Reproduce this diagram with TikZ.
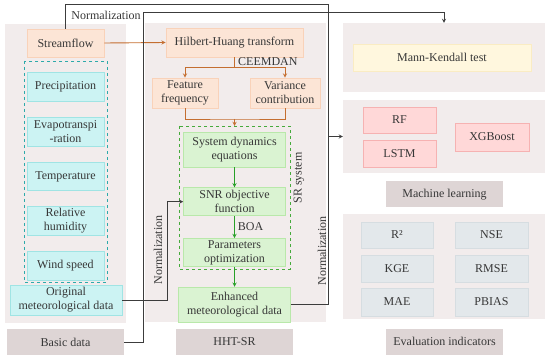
\documentclass[tikz,border=0pt]{standalone}
\usepackage{fontspec}
\setmainfont{Liberation Serif}
\usetikzlibrary{positioning, arrows.meta}
\definecolor{panelbg}{RGB}{242, 236, 236}
\definecolor{tagbg}{RGB}{222, 213, 213}
\definecolor{txt}{RGB}{55, 55, 55}
\definecolor{wire}{RGB}{60, 60, 60}
\definecolor{orafill}{RGB}{252, 229, 214}
\definecolor{oraline}{RGB}{249, 210, 185}
\definecolor{oraarrow}{RGB}{196, 110, 48}
\definecolor{teafill}{RGB}{204, 243, 243}
\definecolor{tealine}{RGB}{160, 228, 228}
\definecolor{teadash}{RGB}{45, 170, 170}
\definecolor{grefill}{RGB}{218, 243, 210}
\definecolor{greline}{RGB}{185, 232, 170}
\definecolor{gredash}{RGB}{70, 170, 60}
\definecolor{grearrow}{RGB}{40, 160, 40}
\definecolor{pinfill}{RGB}{255, 216, 216}
\definecolor{pinline}{RGB}{246, 178, 178}
\definecolor{blufill}{RGB}{227, 232, 235}
\definecolor{bluline}{RGB}{214, 221, 225}
\definecolor{yelfill}{RGB}{255, 247, 222}
\definecolor{yelline}{RGB}{250, 236, 195}

\begin{document}
\begin{tikzpicture}[
    x=1pt, y=-1pt,
    every node/.style={text=txt, font=\fontsize{12}{14}\selectfont},
    panel/.style={fill=panelbg, inner sep=0pt},
    tag/.style={fill=tagbg, minimum width=117, minimum height=26, inner sep=0pt},
    box/.style={
        draw=#1line,
        fill=#1fill,
        line width=0.7pt,
        align=center,
        inner xsep=2pt,
        inner ysep=1pt
    },
    lbl/.style={inner sep=1pt},
    conn/.style={draw=wire, line width=0.8pt, >=stealth},
    oline/.style={draw=oraarrow, line width=0.9pt, >=stealth},
    gline/.style={draw=grearrow, line width=0.9pt, >=stealth}
]
\useasboundingbox (0,0) rectangle (550,361);

% === Panels ===
\node[panel, minimum width=121, minimum height=299] (leftpanel) at (65.5,173.5) {};
\node[panel, minimum width=181, minimum height=299] (midpanel) at (235.5,172.5) {};
\node[panel, minimum width=202, minimum height=69] (mkpanel) at (444,57.5) {};
\node[panel, minimum width=202, minimum height=73] (mlpanel) at (444,136.5) {};
\node[panel, minimum width=202, minimum height=105] (evalpanel) at (444,266.5) {};

% === Basic data ===
\node[box=ora, minimum width=77, minimum height=28] (streamflow) at (65.5,43) {Streamflow};
\node[box=tea, minimum width=77, minimum height=28.5, below=15pt of streamflow] (precip) {Precipitation};
\node[box=tea, minimum width=77, minimum height=28.5, below=15.5pt of precip] (evapo) {Evapotranspi\\-ration};
\node[box=tea, minimum width=77, minimum height=28.5, below=15.5pt of evapo] (temp) {Temperature};
\node[box=tea, minimum width=77, minimum height=28.5, below=15.5pt of temp] (humid) {Relative\\humidity};
\node[box=tea, minimum width=77, minimum height=28.5, below=15.5pt of humid] (wind) {Wind speed};
\draw[teadash, dashed, line width=0.8pt] (24,61) rectangle (107,282);
\node[box=tea, minimum width=112, minimum height=30] (origmet) at (66,300) {Original\\meteorological data};
\node[tag] (basic) at (65.5,342) {Basic data};

% === HHT-SR ===
\node[box=ora, minimum width=137, minimum height=29] (hht) at (234.5,42.5) {Hilbert-Huang transform};
\node[lbl, anchor=west] (ceemdan) at (237,62) {CEEMDAN};
\node[box=ora, minimum width=66, minimum height=30] (feature) at (185,93) {Feature\\frequency};
\node[box=ora, minimum width=70, minimum height=30] (variance) at (285,93) {Variance\\contribution};
\node[box=gre, minimum width=102, minimum height=35] (sysdyn) at (234.5,149.5) {System dynamics\\equations};
\node[box=gre, minimum width=102, minimum height=28, below=20pt of sysdyn] (snr) {SNR objective\\function};
\node[box=gre, minimum width=102, minimum height=28, below=22pt of snr] (params) {Parameters\\optimization};
\node[box=gre, minimum width=112, minimum height=35, below=20pt of params] (enhanced) {Enhanced\\meteorological data};
\draw[gredash, dashed, line width=0.8pt] (179,126) rectangle (290,269);
\node[lbl, rotate=90] (srsys) at (299,178) {SR system};
\node[tag] (hhtsr) at (234.5,342) {HHT-SR};

% === Right column ===
\node[box=yel, minimum width=178, minimum height=27] (mk) at (442,57.5) {Mann-Kendall test};
\node[box=pin, minimum width=73, minimum height=26] (rf) at (399.5,120) {RF};
\node[box=pin, minimum width=73, minimum height=27] (lstm) at (399.5,153.5) {LSTM};
\node[box=pin, minimum width=74, minimum height=28] (xgb) at (492,137) {XGBoost};
\node[tag] (mltag) at (444.5,194.5) {Machine learning};
\node[box=blu, minimum width=72, minimum height=26] (rsq) at (397,235) {R²};
\node[box=blu, minimum width=73, minimum height=26] (nse) at (491.5,235) {NSE};
\node[box=blu, minimum width=72, minimum height=27] (kge) at (397,268.5) {KGE};
\node[box=blu, minimum width=73, minimum height=27] (rmse) at (491.5,268.5) {RMSE};
\node[box=blu, minimum width=72, minimum height=28] (mae) at (397,302) {MAE};
\node[box=blu, minimum width=73, minimum height=28] (pbias) at (491.5,302) {PBIAS};
\node[tag] (evaltag) at (444.5,341.5) {Evaluation indicators};

% === Arrows ===
\draw[oline, ->] (streamflow.east) -- (hht.west);
\draw[oline, ->] (hht.south) -- ++(0,10.5) -| (feature.north);
\draw[oline, ->] (hht.south) -- ++(0,10.5) -| (variance.north);
\coordinate (join) at (234.5,119);
\draw[oline] (feature.south) |- (join) -| (variance.south);
\draw[oline, ->] (join) -- ++(0,7);

\draw[gline, ->] (sysdyn.south) -- (snr.north);
\draw[gline, ->] (snr.south) -- (params.north) node[lbl, midway, right=2pt] (boa) {BOA};
\draw[gline, ->] (params.south) -- (enhanced.north);

\coordinate (topbend) at (328,4);
\coordinate (midbend) at (143,12);
\draw[conn, ->] (streamflow.north) |- (topbend) |- (mlpanel.west);
\draw[conn] (enhanced.east) -| (topbend);
\draw[conn, ->] (basic.east) -| (midbend) -| (mkpanel.north);
\draw[conn, ->] (origmet.east) -- ++(45,0) |- (snr.west);

\node[lbl] (norm1) at (106,15) {Normalization};
\node[lbl, rotate=90] (norm2) at (158,250) {Normalization};
\node[lbl, rotate=90] (norm3) at (322,251) {Normalization};

\end{tikzpicture}
\end{document}
